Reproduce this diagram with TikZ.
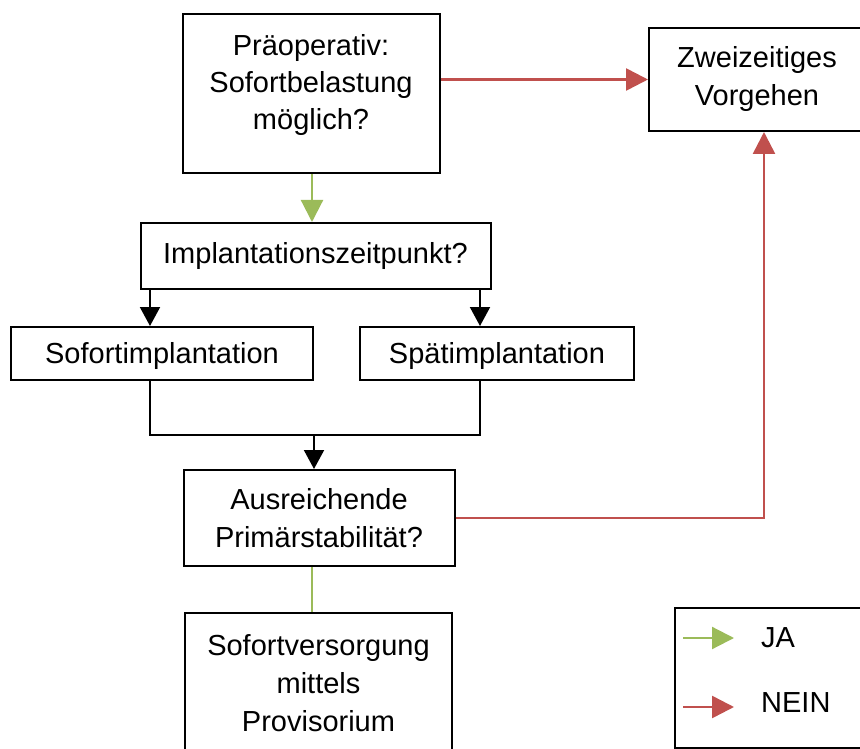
\documentclass[tikz,border=0pt]{standalone}
\usepackage{fontspec}
\setmainfont{Liberation Sans}
\usetikzlibrary{arrows.meta}
\definecolor{jagreen}{RGB}{155,187,89}
\definecolor{neinred}{RGB}{192,80,77}

\begin{document}
\begin{tikzpicture}[x=1pt,y=-1pt]

      %styles for boxes and arrows
      \tikzset{
      box/.style={draw, line width=2pt, align=center, inner sep=0pt,
        font=\fontsize{29}{38}\selectfont},
      txt/.style={align=center, inner sep=0pt, font=\fontsize{29}{37}\selectfont},
      ja/.style={jagreen, line width=2.2pt},
      nein/.style={neinred, line width=2.6pt},
      bigtip/.style={-{Triangle[length=22pt,width=22pt]}},
      smalltip/.style={-{Triangle[length=19pt,width=20pt]}},
      }

      \useasboundingbox (0,0) rectangle (860,749);

      %question#1
      \node[box, minimum width=257pt, minimum height=159pt] (pre) at (311,94) {};
      \node[txt] (pre-txt) at (311,85) {Präoperativ:\\Sofortbelastung\\möglich?};
      %exit
      \node[box, minimum width=216pt, minimum height=103pt] (zwei) at (757,79.5) {Zweizeitiges\\Vorgehen};

      %question#2
      \node[box, minimum width=350pt, minimum height=66pt] (impl) at (315.5,256) {Implantationszeitpunkt?};
      \node[box, minimum width=302pt, minimum height=53pt, text height=27pt] (sofimp) at (162,353.5) {Sofortimplantation};
      \node[box, minimum width=274pt, minimum height=53pt, text height=27pt] (spaet) at (497,353.5) {Spätimplantation};

      %question#3
      \node[box, minimum width=271pt, minimum height=96pt] (ausr) at (319,518) {Ausreichende\\Primärstabilität?};
      \node[box, minimum width=267pt, minimum height=140pt] (sofv) at (318.5,683) {Sofortversorgung\\mittels\\Provisorium};

      %legend
      \node[box, minimum width=210pt, minimum height=140pt] (leg) at (780,678) {};
      \node[txt, anchor=west] (leg-ja) at (761,638) {JA};
      \node[txt, anchor=west] (leg-nein) at (761,703) {NEIN};
      \coordinate (ja-s) at (683,638);
      \coordinate (ja-e) at (734,638);
      \coordinate (nein-s) at (683,707);
      \coordinate (nein-e) at (734,707);
      \draw[ja, bigtip] (ja-s) -- (ja-e);
      \draw[nein, bigtip] (nein-s) -- (nein-e);

      %x positions of the connectors
      \coordinate (xl) at (150,0);
      \coordinate (xr) at (480,0);
      \coordinate (xm) at (312,0);
      \coordinate (xn) at (764,0);
      \coordinate (join) at (314,435);

      %yes edges
      \draw[ja, bigtip] (xm |- pre.south) -- (xm |- impl.north);
      \draw[ja] (xm |- ausr.south) -- (xm |- sofv.north);

      %no edges
      \draw[nein, bigtip] (pre.east |- zwei.west) -- (zwei.west);
      \draw[nein, bigtip] (ausr.east) -| (xn |- zwei.south);

      %time of implantation
      \draw[line width=2pt, smalltip] (xl |- impl.south) -- (xl |- sofimp.north);
      \draw[line width=2pt, smalltip] (xr |- impl.south) -- (xr |- spaet.north);
      \draw[line width=2pt] (xl |- sofimp.south) |- (join) -| (xr |- spaet.south);
      \draw[line width=2pt, smalltip] (join) -- (join |- ausr.north);
    \end{tikzpicture}
\end{document}
